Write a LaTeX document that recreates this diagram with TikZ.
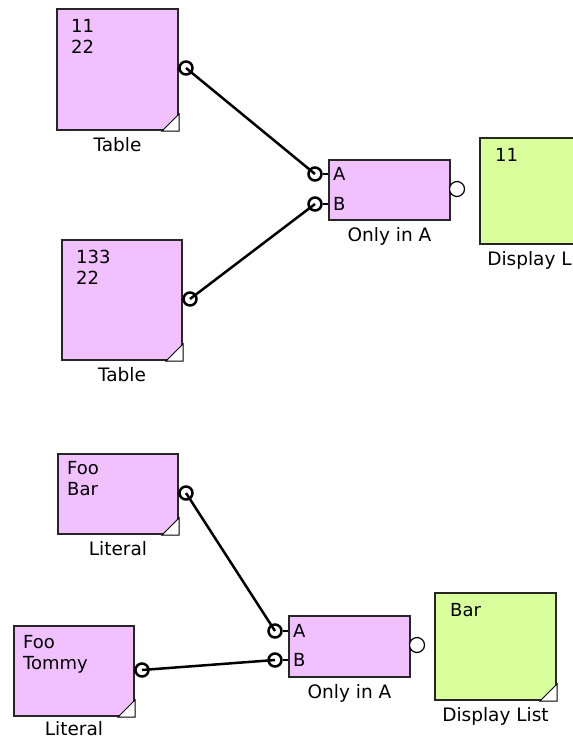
\documentclass[tikz,border=0pt]{standalone}
\usepackage{fontspec}
\setmainfont{DejaVu Sans}
\usetikzlibrary{positioning}
\definecolor{blockpink}{HTML}{F0C0FF}
\definecolor{blockgreen}{HTML}{D8FF9C}
\tikzset{
  block/.style={draw=black!85, line width=2pt, inner sep=0pt, anchor=north west},
  pinkblock/.style={block, fill=blockpink},
  greenblock/.style={block, fill=blockgreen},
  content/.style={anchor=north west, inner sep=0pt, align=left, font=\fontsize{18}{21}\selectfont},
  caption/.style={inner sep=0pt, font=\fontsize{18.5}{20}\selectfont},
  pinlabel/.style={anchor=west, inner sep=0pt, font=\fontsize{18}{20}\selectfont},
  port/.style={circle, draw, line width=2.5pt, minimum size=13pt, inner sep=0pt},
  freeport/.style={circle, draw, line width=1.2pt, minimum size=15pt, inner sep=0pt, fill=white},
  wire/.style={line width=2.5pt},
}

\begin{document}
\begin{tikzpicture}[x=1pt, y=-1pt]
  \useasboundingbox (0,0) rectangle (573,742);
  \clip (0,0) rectangle (573,742);

  % upper network
  \node[pinkblock, minimum width=121pt, minimum height=121pt] (tab1) at (56,8) {};
  \node[pinkblock, minimum width=120pt, minimum height=120pt] (tab2) at (61,239) {};
  \node[pinkblock, minimum width=121pt, minimum height=60pt] (only1) at (328,159) {};
  \node[greenblock, minimum width=121pt, minimum height=106pt] (disp1) at (479,137) {};

  \node[content] (tab1txt) at ([xshift=15pt, yshift=-11pt]tab1.north west) {11\\22};
  \node[content] (tab2txt) at ([xshift=15pt, yshift=-11pt]tab2.north west) {133\\22};
  \node[content] (disp1txt) at ([xshift=16pt, yshift=-11pt]disp1.north west) {11};

  \node[caption, below=6pt of tab1] (tab1cap) {Table};
  \node[caption, below=6pt of tab2] (tab2cap) {Table};
  \node[caption, below=6pt of only1] (only1cap) {Only in A};
  \node[caption, below=6pt of disp1] (disp1cap) {Display List};

  \node[port] (tab1out) at (186,68) {};
  \node[port] (tab2out) at (190,299) {};
  \node[port] (only1a) at (315,174) {};
  \node[port] (only1b) at (315,204) {};
  \node[freeport] (only1out) at (457,189) {};
  \node[pinlabel] (only1al) at ([xshift=5pt]only1.west |- only1a) {A};
  \node[pinlabel] (only1bl) at ([xshift=5pt]only1.west |- only1b) {B};

  \draw[wire] (tab1.east) -- (tab1out.west);
  \draw[wire] (tab2.east) -- (tab2out.west);
  \draw[wire] (only1a.east) -- (only1a -| only1.west);
  \draw[wire] (only1b.east) -- (only1b -| only1.west);
  \draw[wire] (tab1out.center) -- (only1a.center);
  \draw[wire] (tab2out.center) -- (only1b.center);

  % lower network
  \node[pinkblock, minimum width=120pt, minimum height=80pt] (lit1) at (57,453) {};
  \node[pinkblock, minimum width=120pt, minimum height=90pt] (lit2) at (13,625) {};
  \node[pinkblock, minimum width=121pt, minimum height=61pt] (only2) at (288,615) {};
  \node[greenblock, minimum width=121pt, minimum height=107pt] (disp2) at (434,592) {};

  \node[content] (lit1txt) at ([xshift=10pt, yshift=-8pt]lit1.north west) {Foo\\Bar};
  \node[content] (lit2txt) at ([xshift=10pt, yshift=-10pt]lit2.north west) {Foo\\Tommy};
  \node[content] (disp2txt) at ([xshift=16pt, yshift=-11pt]disp2.north west) {Bar};

  \node[caption, below=6pt of lit1] (lit1cap) {Literal};
  \node[caption, below=4pt of lit2] (lit2cap) {Literal};
  \node[caption, below=6pt of only2] (only2cap) {Only in A};
  \node[caption, below=6pt of disp2] (disp2cap) {Display List};

  \node[port] (lit1out) at (186,493) {};
  \node[port] (lit2out) at (142,670) {};
  \node[port] (only2a) at (275,631) {};
  \node[port] (only2b) at (275,660) {};
  \node[freeport] (only2out) at (417,645) {};
  \node[pinlabel] (only2al) at ([xshift=5pt]only2.west |- only2a) {A};
  \node[pinlabel] (only2bl) at ([xshift=5pt]only2.west |- only2b) {B};

  \draw[wire] (lit1.east) -- (lit1out.west);
  \draw[wire] (lit2.east) -- (lit2out.west);
  \draw[wire] (only2a.east) -- (only2a -| only2.west);
  \draw[wire] (only2b.east) -- (only2b -| only2.west);
  \draw[wire] (lit1out.center) -- (only2a.center);
  \draw[wire] (lit2out.center) -- (only2b.center);

  % folded corners
  \foreach \n in {tab1,tab2,disp1,lit1,lit2,disp2}
    \draw[fill=white, line width=1pt] ([xshift=-17pt]\n.south east) -- ([yshift=17pt]\n.south east)
      -- (\n.south east) -- cycle;
\end{tikzpicture}
\end{document}
